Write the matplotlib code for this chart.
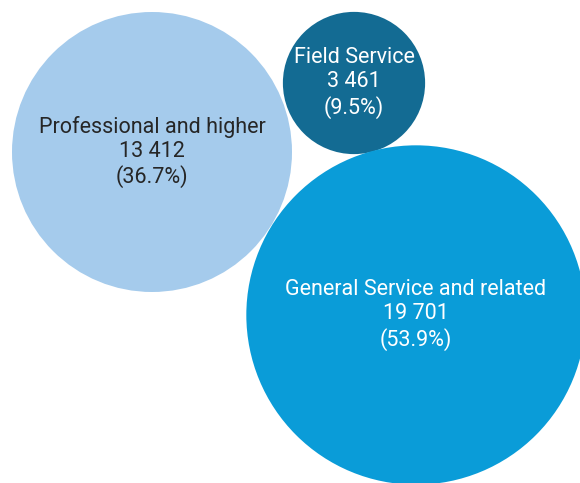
import matplotlib
matplotlib.use("Agg")
import matplotlib.pyplot as plt
from matplotlib.patches import Circle
import numpy as np

categories = ["Professional and higher", "Field Service", "General Service and related"]
values = [13412, 3461, 19701]
colors = ["#A5CBEC", "#136B93", "#0A9CD8"]
text_colors = ["#262626", "#FFFFFF", "#FFFFFF"]
# layout: bubble centres in pixel-like units
centers_x = [152, 354, 416]
centers_y = [152, 83, 315]

W, H = 580, 483
fig = plt.figure(figsize=(W / 100, H / 100), dpi=100)
ax = fig.add_axes([0, 0, 1, 1])
ax.set_xlim(0, W)
ax.set_ylim(H, 0)
ax.set_aspect("equal")
ax.axis("off")

total = sum(values)
scale = 140 / np.sqrt(max(values[0], 1))

def fmt(v):
    return f"{v:,}".replace(",", " ")

for cat, v, c, tc, cx, cy in zip(categories, values, colors, text_colors, centers_x, centers_y):
    r = scale * np.sqrt(v)
    ax.add_patch(Circle((cx, cy), r, facecolor=c, edgecolor="none"))
    pct = 100 * v / total
    ax.text(cx, cy, f"{cat}\n{fmt(v)}\n({pct:.1f}%)", ha="center", va="center",
            color=tc, fontsize=15.5, family=["Roboto", "DejaVu Sans"],
            linespacing=1.18)

fig.savefig("out.png", dpi=100)
